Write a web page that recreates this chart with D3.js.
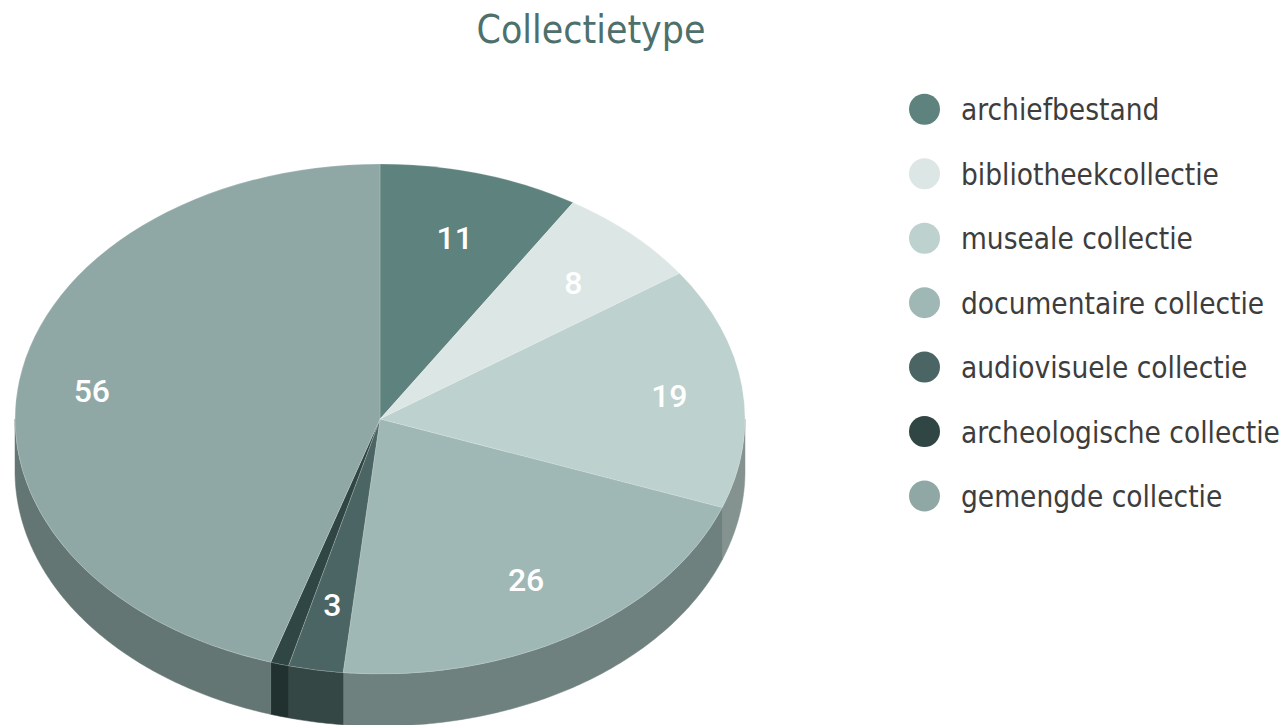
<!DOCTYPE html>
<html>
<head>
<meta charset="utf-8">
<script src="https://cdn.jsdelivr.net/npm/d3@7"></script>
<style>
  html, body { margin: 0; padding: 0; background: #ffffff; }
  svg { display: block; }
</style>
</head>
<body>
<svg id="chart" width="1286" height="725"></svg>
<script>
const title = "Collectietype";
const categories = ["archiefbestand", "bibliotheekcollectie", "museale collectie", "documentaire collectie", "audiovisuele collectie", "archeologische collectie", "gemengde collectie"];
const values = [11, 8, 19, 26, 3, 1, 56];
const colors = ["#5e837f", "#dce6e4", "#bdd1ce", "#9fb8b6", "#4a6563", "#2f4644", "#8fa8a6"];

(function () {
const cx = 380, cy = 419, rx = 365, ry = 255, depth = 52;
const svg = d3.select("#chart");

svg.append("text")
  .attr("x", 591).attr("y", 42.5)
  .attr("text-anchor", "middle")
  .attr("font-family", "'DejaVu Sans Condensed', 'DejaVu Sans', sans-serif")
  .attr("font-stretch", "condensed")
  .attr("font-size", 39)
  .attr("textLength", 229)
  .attr("lengthAdjust", "spacingAndGlyphs")
  .attr("fill", "#4e706c")
  .text(title);

const data = categories.map((c, i) => ({ name: c, value: values[i], color: colors[i] }));
const pie = d3.pie().sort(null).value(d => d.value).startAngle(0).endAngle(2 * Math.PI);
const arcs = pie(data);

const px = t => cx + rx * Math.sin(t);
const py = t => cy - ry * Math.cos(t);

// side walls (front half only)
const walls = svg.append("g");
const line = d3.line().x(d => d[0]).y(d => d[1]);
arcs.forEach(a => {
  const s = Math.max(a.startAngle, Math.PI / 2);
  const e = Math.min(a.endAngle, 3 * Math.PI / 2);
  if (e <= s) return;
  const n = Math.max(2, Math.ceil((e - s) / 0.01));
  const ts = d3.range(n + 1).map(k => s + (e - s) * k / n);
  const pts = ts.map(t => [px(t), py(t)])
    .concat(ts.slice().reverse().map(t => [px(t), py(t) + depth]));
  const c = d3.color(a.data.color).darker(1).formatHex();
  walls.append("path")
    .attr("d", line(pts) + "Z")
    .attr("fill", c)
    .attr("stroke", c)
    .attr("stroke-width", 0.5);
});

// top faces
const arc = d3.arc().innerRadius(0).outerRadius(rx);
const topG = svg.append("g").attr("transform", `translate(${cx},${cy}) scale(1,${ry / rx})`);
topG.selectAll("path").data(arcs).join("path")
  .attr("d", arc)
  .attr("fill", d => d.data.color)
  .attr("stroke", "rgba(255,255,255,0.18)")
  .attr("stroke-width", 1)
  .attr("vector-effect", "non-scaling-stroke");

// value labels (tiny slices unlabeled)
const mid = d => (d.startAngle + d.endAngle) / 2;
svg.append("g").selectAll("text")
  .data(arcs.filter(a => a.endAngle - a.startAngle > 0.1))
  .join("text")
  .attr("x", d => {
    const s = Math.sin(mid(d));
    return cx + rx * (0.74 + 0.06 * s * s) * s;
  })
  .attr("y", d => cy - ry * 0.74 * Math.cos(mid(d)))
  .attr("dy", "0.36em")
  .attr("text-anchor", "middle")
  .attr("font-family", "Roboto, 'Liberation Sans', sans-serif")
  .attr("font-weight", 500)
  .attr("font-size", 32)
  .attr("fill", "#ffffff")
  .text(d => d.data.value);

// legend
const legend = svg.append("g");
const ly = d3.scalePoint().domain(categories).range([109.3, 496]);
const items = legend.selectAll("g").data(data).join("g")
  .attr("transform", d => `translate(0,${ly(d.name)})`);
items.append("circle")
  .attr("cx", 924.5).attr("cy", 0).attr("r", 15.5)
  .attr("fill", d => d.color);
items.append("text")
  .attr("x", 961).attr("y", 11)
  .attr("font-family", "'DejaVu Sans Condensed', 'DejaVu Sans', sans-serif")
  .attr("font-stretch", "condensed")
  .attr("font-size", 29.5)
  .attr("fill", "#3d3d3d")
  .text(d => d.name);
})();
</script>
</body>
</html>
